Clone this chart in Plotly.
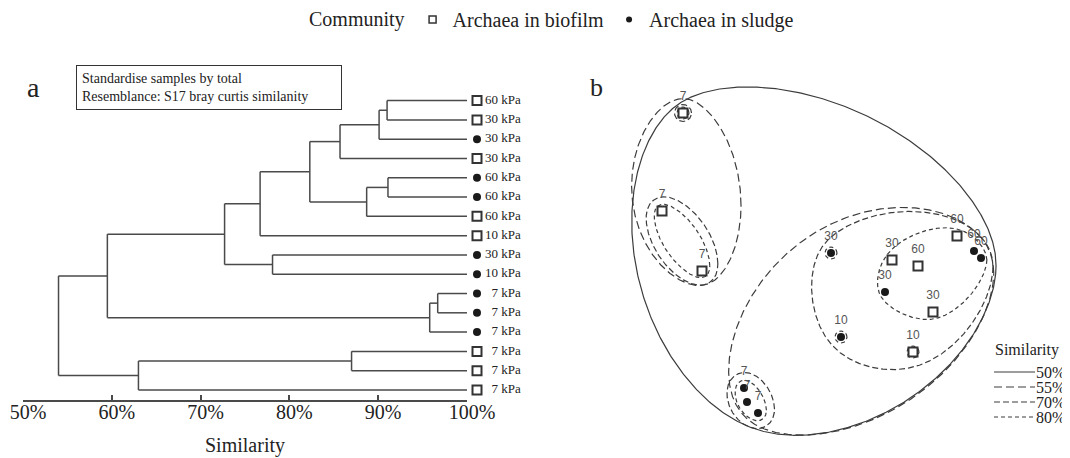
import numpy as np
import plotly.graph_objects as go

# ---------------- data ----------------
# dendrogram leaves, top to bottom
leaf_community = ["biofilm", "biofilm", "sludge", "biofilm", "sludge", "sludge", "biofilm", "biofilm",
                  "sludge", "sludge", "sludge", "sludge", "sludge", "biofilm", "biofilm", "biofilm"]
leaf_pressure = [60, 30, 30, 30, 60, 60, 60, 10, 30, 10, 7, 7, 7, 7, 7, 7]
# merges (node a, node b, similarity %), new nodes numbered from 16 upward
merge_a = [0, 16, 17, 4, 19, 18, 21, 8, 22, 10, 25, 24, 13, 28, 27]
merge_b = [1, 2, 3, 5, 6, 20, 7, 9, 23, 11, 12, 26, 14, 15, 29]
merge_sim = [91.0, 90.1, 85.7, 91.1, 88.7, 82.3, 76.7, 78.1, 72.7, 96.7, 95.8, 59.5, 87.0, 63.0, 54.0]
# nMDS coordinates of the same samples
mds1 = [0.88, 0.62, 0.55, 1.03, 1.44, 1.51, 1.27, 0.83, 0.01, 0.11, -0.86, -0.83, -0.72, -1.68, -1.28, -1.47]
mds2 = [-0.06, 0.00, -0.32, -0.52, 0.09, 0.02, 0.24, -0.92, 0.07, -0.77, -1.28, -1.42, -1.53, 0.49, -0.11, 1.47]
similarity_levels = [50, 55, 70, 80]
sim_ticks = [50, 60, 70, 80, 90, 100]
community_names = {"biofilm": "Archaea in biofilm", "sludge": "Archaea in sludge"}

# ---------------- styles ----------------
W, H = 1070, 458
OFF = 8  # page body margin of the exported html
SERIF = "Liberation Serif"
SANS = "Liberation Sans"
LINE = "#4a4a4a"
CONTOUR = "#3c3c3c"
level_dash = {50: "solid", 55: "8px,4px", 70: "6px,3px", 80: "4px,3px"}
# (smoothing sigma [rad], offset for groups, offset for single samples)
level_shape = {50: (0.45, 0.28, 0.28), 55: (0.45, 0.22, 0.22), 70: (0.40, 0.165, 0.085), 80: (0.35, 0.085, 0.06)}
marker_style = {
    "biofilm": dict(symbol="square-open", size=9, color="#333", line=dict(width=2, color="#333")),
    "sludge": dict(symbol="circle", size=8, color="#1a1a1a", line=dict(width=0)),
}
legend_marker = {
    "biofilm": dict(symbol="square-open", size=7, color="#333", line=dict(width=1.5, color="#333")),
    "sludge": dict(symbol="circle", size=6, color="#1a1a1a", line=dict(width=0)),
}

n = len(leaf_pressure)

# ---------- dendrogram geometry from merges ----------
node_x = [100.0] * n
node_y = list(range(n))
node_leaves = [[i] for i in range(n)]
dx, dy = [], []
for a, b, s in zip(merge_a, merge_b, merge_sim):
    for c in (a, b):
        dx += [node_x[c], s, None]
        dy += [node_y[c], node_y[c], None]
    dx += [s, s, None]
    dy += [node_y[a], node_y[b], None]
    node_x.append(s)
    node_y.append((node_y[a] + node_y[b]) / 2)
    node_leaves.append(node_leaves[a] + node_leaves[b])


def groups_at(level):
    parent = list(range(n))

    def find(i):
        while parent[i] != i:
            i = parent[i]
        return i
    for a, b, s in zip(merge_a, merge_b, merge_sim):
        if s >= level:
            parent[find(node_leaves[a][0])] = find(node_leaves[b][0])
    g = {}
    for i in range(n):
        g.setdefault(find(i), []).append(i)
    return list(g.values())


def smooth_contour(idx, sigma, r, k=720):
    """Smoothed, offset convex outline around a group of samples (via its support function)."""
    P = np.array([[mds1[i], mds2[i]] for i in idx])
    c = (P.min(axis=0) + P.max(axis=0)) / 2
    Q = P - c
    th = np.linspace(0, 2 * np.pi, k, endpoint=False)
    U = np.stack([np.cos(th), np.sin(th)], axis=1)
    h = (Q @ U.T).max(axis=0)
    if len(idx) > 1 and sigma > 0:
        d = np.minimum(np.arange(k), k - np.arange(k)) * (2 * np.pi / k)
        ker = np.exp(-0.5 * (d / sigma) ** 2)
        ker /= ker.sum()
        h = np.real(np.fft.ifft(np.fft.fft(h) * np.fft.fft(ker)))
    h = h + r
    dh = (np.roll(h, -1) - np.roll(h, 1)) / (2 * (2 * np.pi / k))
    x = c[0] + h * np.cos(th) - dh * np.sin(th)
    y = c[1] + h * np.sin(th) + dh * np.cos(th)
    return list(np.append(x, x[0])), list(np.append(y, y[0]))


fig = go.Figure()

# dendrogram lines
fig.add_trace(go.Scatter(x=dx, y=dy, mode="lines", line=dict(color=LINE, width=1.5),
                         showlegend=False, hoverinfo="skip", xaxis="x", yaxis="y"))

# leaf markers and labels (on a helper axis right of the 100 % end)
for com in ["biofilm", "sludge"]:
    idx = [i for i in range(n) if leaf_community[i] == com]
    fig.add_trace(go.Scatter(x=[10] * len(idx), y=idx, mode="markers", marker=marker_style[com],
                             showlegend=False, legendgroup=com, xaxis="x3", yaxis="y"))
fig.add_trace(go.Scatter(x=[18] * n, y=list(range(n)), mode="text",
                         text=[("\u2007" if p < 10 else "") + f"{p} kPa" for p in leaf_pressure],
                         textposition="middle right", textfont=dict(family=SERIF, size=13, color="#222"),
                         showlegend=False, xaxis="x3", yaxis="y"))

# nMDS similarity contours, cut from the dendrogram
for lev in similarity_levels:
    sig, rg, rs = level_shape[lev]
    cx, cy = [], []
    for g in groups_at(lev):
        hx, hy = smooth_contour(g, sig, rg if len(g) > 1 else rs)
        cx += hx + [None]
        cy += hy + [None]
    fig.add_trace(go.Scatter(x=cx, y=cy, mode="lines", name=f"{lev}%",
                             line=dict(color=CONTOUR, width=1.2, dash=level_dash[lev]),
                             showlegend=False, hoverinfo="skip", xaxis="x2", yaxis="y2"))

# nMDS points
for com in ["biofilm", "sludge"]:
    idx = [i for i in range(n) if leaf_community[i] == com]
    fig.add_trace(go.Scatter(x=[mds1[i] for i in idx], y=[mds2[i] for i in idx], mode="markers",
                             name=community_names[com], marker=marker_style[com],
                             showlegend=False, legendgroup=com, xaxis="x2", yaxis="y2"))
# pressure labels above the points (transparent spacer markers set the gap)
fig.add_trace(go.Scatter(x=mds1, y=mds2, mode="markers+text", text=[str(p) for p in leaf_pressure],
                         marker=dict(size=15, opacity=0), hoverinfo="skip",
                         textposition="top center", textfont=dict(family=SANS, size=12, color="#555"),
                         showlegend=False, xaxis="x2", yaxis="y2"))
# legend entries
for com in ["biofilm", "sludge"]:
    fig.add_trace(go.Scatter(x=[None], y=[None], mode="markers", name=community_names[com],
                             marker=legend_marker[com], legendgroup=com, xaxis="x2", yaxis="y2"))


def px(xp):
    return (xp - OFF) / W


def py(yp):
    return 1 - (yp - OFF) / H


# similarity key for panel b
key_y0, key_dy = 372, 15
shapes, key_ann = [], []
for k, lev in enumerate(similarity_levels):
    yk = key_y0 + k * key_dy
    shapes.append(dict(type="line", xref="paper", yref="paper", x0=px(994), x1=px(1035),
                       y0=py(yk), y1=py(yk), line=dict(color=CONTOUR, width=1.2, dash=level_dash[lev])))
    key_ann.append(dict(text=f"{lev}%", x=px(1067), y=py(yk), xref="paper", yref="paper",
                        xanchor="right", yanchor="middle", showarrow=False,
                        font=dict(family=SERIF, size=16, color="#222")))
key_ann.append(dict(text="Similarity", x=px(993), y=py(350), xref="paper", yref="paper",
                    xanchor="left", yanchor="middle", showarrow=False,
                    font=dict(family=SERIF, size=16, color="#222")))

fig.update_layout(
    width=W, height=H, margin=dict(l=0, r=0, t=0, b=0, autoexpand=False),
    paper_bgcolor="white", plot_bgcolor="white",
    font=dict(family=SERIF, color="#222"),
    xaxis=dict(domain=[px(23), px(467)], range=[50, 100], tickvals=sim_ticks,
               ticktext=[f"{v}%" for v in sim_ticks],
               showline=True, linecolor=LINE, linewidth=1.5, ticks="inside", ticklen=5,
               tickwidth=1.5, tickcolor=LINE, showgrid=False, zeroline=False,
               tickfont=dict(family=SERIF, size=20, color="#222"), ticklabelstandoff=-7,
               ticklabelshift=5, ticklabeloverflow="allow",
               title=dict(text="Similarity", font=dict(family=SERIF, size=20, color="#222"), standoff=16),
               anchor="y", automargin=False),
    xaxis3=dict(domain=[px(467), px(567)], range=[0, 100], visible=False, anchor="y"),
    yaxis=dict(domain=[py(400), py(90)], range=[15.52, -0.55], visible=False, anchor="x"),
    xaxis2=dict(domain=[px(590), px(1060)], range=[-2.4, 2.3], visible=False, anchor="y2"),
    yaxis2=dict(domain=[py(450), py(70)], range=[-1.9, 1.9], visible=False, anchor="x2"),
    legend=dict(title=dict(text="Community", side="left", font=dict(family=SERIF, size=20)),
                orientation="h", x=px(307), y=py(0), xanchor="left", yanchor="top",
                font=dict(family=SERIF, size=20, color="#222"), itemwidth=30,
                bgcolor="rgba(0,0,0,0)"),
    shapes=shapes,
    annotations=[
        dict(text="a", x=px(33), y=py(88), xref="paper", yref="paper", showarrow=False,
             xanchor="center", yanchor="middle", font=dict(family=SERIF, size=28, color="#222")),
        dict(text="b", x=px(596), y=py(88), xref="paper", yref="paper", showarrow=False,
             xanchor="center", yanchor="middle", font=dict(family=SERIF, size=26, color="#222")),
        dict(text="Standardise samples by total<br>Resemblance: S17 bray curtis similanity",
             x=px(76), y=py(65), xref="paper", yref="paper", xanchor="left", yanchor="top",
             showarrow=False, align="left", bordercolor="#333", borderwidth=1, borderpad=5,
             width=254, font=dict(family=SERIF, size=14, color="#222")),
    ] + key_ann,
)

fig.write_html("out.html")
